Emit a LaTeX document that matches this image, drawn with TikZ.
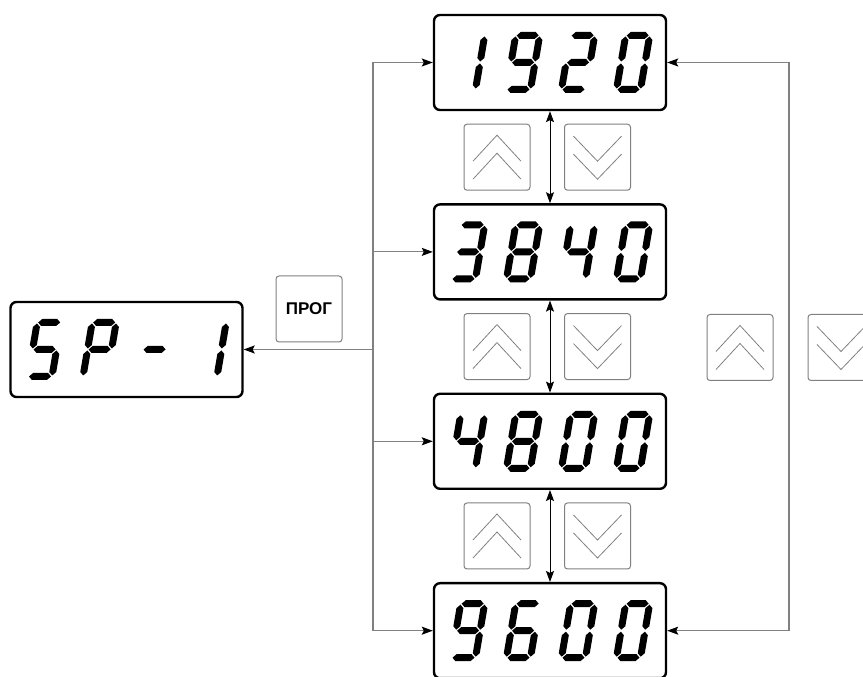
\documentclass[tikz,border=0pt]{standalone}
\usepackage{fontspec}
\setmainfont{Liberation Sans}
\usetikzlibrary{positioning, calc, arrows.meta}

%% seven-segment helpers (origin = lower left corner of one digit)
\newcommand{\hseg}[2]{\fill (#1-11,#2) -- ++(3.5,3.5) -- ++(15,0) -- ++(3.5,-3.5) -- ++(-3.5,-3.5) -- ++(-15,0) -- cycle;}
\newcommand{\vseg}[2]{\fill (#1,#2-12.5) -- ++(3.5,3.5) -- ++(0,18) -- ++(-3.5,3.5) -- ++(-3.5,-3.5) -- ++(0,-18) -- cycle;}
\newcommand{\segma}{\hseg{12}{54}}
\newcommand{\segmb}{\vseg{24}{40.5}}
\newcommand{\segmc}{\vseg{24}{13.5}}
\newcommand{\segmd}{\hseg{12}{0}}
\newcommand{\segme}{\vseg{0}{13.5}}
\newcommand{\segmf}{\vseg{0}{40.5}}
\newcommand{\segmg}{\hseg{12}{27}}
\newcommand{\segdigit}[2]{%
  \begin{scope}[xshift=#1, xslant=0.17]
    \foreach \s in {#2} {\csname segm\s\endcsname}
  \end{scope}}
\newcommand{\segshow}[5]{%
  \begin{scope}[shift={(#1.center)}, yshift=-27pt]
    \segdigit{-98.5}{#2}
    \segdigit{-43.5}{#3}
    \segdigit{11.5}{#4}
    \segdigit{66.5}{#5}
  \end{scope}}

\begin{document}
\begin{tikzpicture}[
  x=1pt, y=1pt,
  %% indicator windows
  disp/.style={
    rectangle, draw=black, line width=2.4pt, rounded corners=6pt,
    minimum width=232pt, minimum height=95pt
  },
  %% keys
  key/.style={
    rectangle, draw=black!50, line width=1pt, rounded corners=3pt,
    minimum size=66pt, inner sep=0pt,
    font=\bfseries\fontsize{17}{19}\selectfont
  },
  chev/.style={draw=black!50, line width=0.8pt, sharp corners},
  upkey/.style={key, path picture={
      \draw[chev] (path picture bounding box.center) ++(-24,-4) -- ++(24,26) -- ++(24,-26);
      \draw[chev] (path picture bounding box.center) ++(-24,-22) -- ++(24,26) -- ++(24,-26);
  }},
  dnkey/.style={key, path picture={
      \draw[chev] (path picture bounding box.center) ++(-24,21) -- ++(24,-25) -- ++(24,25);
      \draw[chev] (path picture bounding box.center) ++(-24,3) -- ++(24,-25) -- ++(24,25);
  }},
  %% lines and arrows
  bus/.style={draw=black!50, line width=1.1pt},
  arr/.style={-{Stealth[length=11pt,width=8pt,inset=2pt,color=black]}},
  arrs/.style={{Stealth[length=11pt,width=8pt,inset=2pt,color=black]}-{Stealth[length=11pt,width=8pt,inset=2pt,color=black]}},
  link/.style={arrs, draw=black, line width=0.9pt}
]
\useasboundingbox (0,0) rectangle (863,677);

%% ================================================================
%% INDICATOR WINDOWS
%% ================================================================
\node[disp] (d1920) at (550,614.5) {};
\node[disp, below=92pt of d1920] (d3840) {};
\node[disp, below=92pt of d3840] (d4800) {};
\node[disp, below=92pt of d4800] (d9600) {};

\node[disp] (dsp1) at (126.5,327.5) {};

\segshow{d1920}{b,c}{a,b,c,d,f,g}{a,b,g,e,d}{a,b,c,d,e,f}
\segshow{d3840}{a,b,g,c,d}{a,b,c,d,e,f,g}{f,g,b,c}{a,b,c,d,e,f}
\segshow{d4800}{f,g,b,c}{a,b,c,d,e,f,g}{a,b,c,d,e,f}{a,b,c,d,e,f}
\segshow{d9600}{a,b,c,d,f,g}{a,f,g,e,d,c}{a,b,c,d,e,f}{a,b,c,d,e,f}
\segshow{dsp1}{a,f,g,c,d}{a,b,f,g,e}{g}{b,c}

%% ================================================================
%% KEYS
%% ================================================================
\node[key] (prog) at (309,368) {ПРОГ};

\coordinate (g1) at ($(d1920.south)!0.5!(d3840.north)$);
\coordinate (g2) at ($(d3840.south)!0.5!(d4800.north)$);
\coordinate (g3) at ($(d4800.south)!0.5!(d9600.north)$);

\node[upkey] (up1) at ($(g1)+(-53,0)$) {};
\node[dnkey] (dn1) at ($(g1)+(47.5,0)$) {};
\node[upkey] (up2) at ($(g2)+(-53,0)$) {};
\node[dnkey] (dn2) at ($(g2)+(47.5,0)$) {};
\node[upkey] (up3) at ($(g3)+(-53,0)$) {};
\node[dnkey] (dn3) at ($(g3)+(47.5,0)$) {};

\node[upkey] (upr) at (740,329.5) {};
\node[dnkey, right=34pt of upr] (dnr) {};

%% ================================================================
%% CONNECTIONS
%% ================================================================
\coordinate (lbus) at (373,0);
\coordinate (rbus) at (789,0);

%% left bus to every window
\draw[bus] (d1920.west -| lbus) -- (d9600.west -| lbus);
\draw[bus, arr] (d1920.west -| lbus) -- (d1920.west);
\draw[bus, arr] (d3840.west -| lbus) -- (d3840.west);
\draw[bus, arr] (d4800.west -| lbus) -- (d4800.west);
\draw[bus, arr] (d9600.west -| lbus) -- (d9600.west);
\draw[bus, arr] (dsp1.east -| lbus) -- (dsp1.east);

%% steps between windows
\draw[link] (d1920.south) -- (d3840.north);
\draw[link] (d3840.south) -- (d4800.north);
\draw[link] (d4800.south) -- (d9600.north);

%% wrap round on the right
\draw[bus, arrs] (d1920.east) -- (d1920.east -| rbus) -- (d9600.east -| rbus) -- (d9600.east);

\end{tikzpicture}
\end{document}
